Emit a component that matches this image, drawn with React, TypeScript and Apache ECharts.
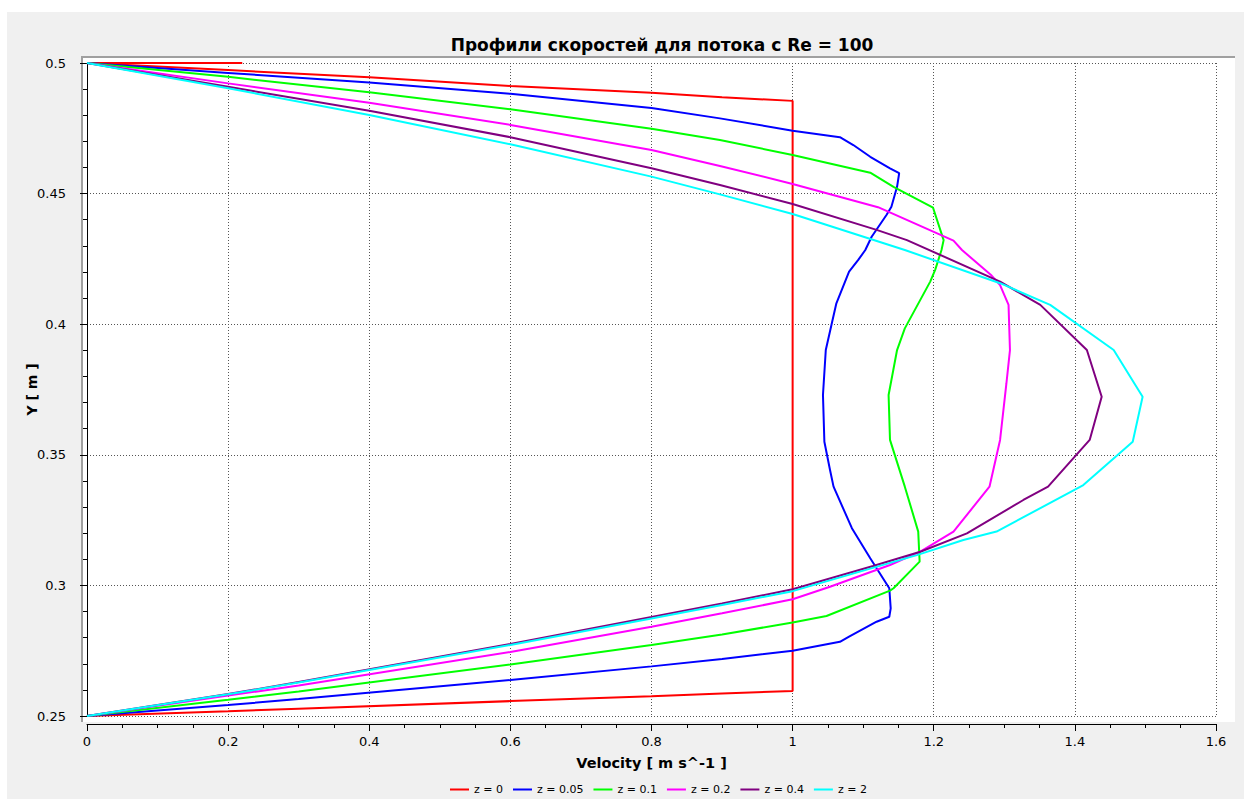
import React, { useEffect, useRef } from "react";
import * as echarts from "echarts";

const titleText = "Профили скоростей для потока с Re = 100";
const xName = "Velocity [ m s^-1 ]";
const yName = "Y [ m ]";

const seriesNames = ["z = 0", "z = 0.05", "z = 0.1", "z = 0.2", "z = 0.4", "z = 2"];
const seriesColors = ["#ff0000", "#0000ff", "#00ff00", "#ff00ff", "#800080", "#00ffff"];

// [velocity, Y] pairs, from bottom wall to top wall
const profileZ0 = [
  [0, 0.25], [0.2, 0.2518], [0.3, 0.2528], [0.6, 0.2557], [0.8, 0.2576], [0.9, 0.2586], [1.0, 0.2596],
  [1.0, 0.4855], [0.9, 0.4869], [0.8, 0.4886], [0.6, 0.4912], [0.4, 0.4945], [0.2, 0.4973],
  [0, 0.5], [0.22, 0.5],
];
const profileZ005 = [
  [0, 0.25], [0.2, 0.2542], [0.3, 0.2565], [0.6, 0.2638], [0.8, 0.269], [0.9, 0.2718], [1.0, 0.275],
  [1.067, 0.2784], [1.08, 0.2804], [1.119, 0.2861], [1.137, 0.288], [1.139, 0.2912], [1.137, 0.2989],
  [1.11, 0.3104], [1.084, 0.3219], [1.058, 0.3378], [1.053, 0.3442], [1.045, 0.355], [1.043, 0.3729],
  [1.047, 0.3901], [1.055, 0.3997], [1.062, 0.408], [1.08, 0.4201], [1.093, 0.4246], [1.103, 0.4284],
  [1.112, 0.4335], [1.133, 0.4418], [1.14, 0.445], [1.148, 0.4526], [1.151, 0.4578], [1.138, 0.4597],
  [1.11, 0.4641], [1.086, 0.4686], [1.067, 0.4716], [1.0, 0.4741], [0.897, 0.4788], [0.8, 0.4828],
  [0.6, 0.4882], [0.4, 0.4925], [0.2, 0.4962], [0, 0.5],
];
const profileZ01 = [
  [0, 0.25], [0.2, 0.2562], [0.3, 0.2594], [0.6, 0.2697], [0.8, 0.2772], [0.9, 0.2812], [1.0, 0.2858],
  [1.048, 0.2883], [1.138, 0.298], [1.143, 0.2989], [1.18, 0.3091], [1.178, 0.3206], [1.159, 0.3378],
  [1.138, 0.3557], [1.136, 0.3729], [1.148, 0.3901], [1.159, 0.3984], [1.195, 0.4163], [1.202, 0.4208],
  [1.211, 0.4284], [1.214, 0.4322], [1.199, 0.4446], [1.143, 0.4526], [1.11, 0.458], [1.0, 0.4648],
  [0.897, 0.4705], [0.8, 0.4748], [0.6, 0.4823], [0.4, 0.4888], [0.2, 0.4947], [0, 0.5],
];
const profileZ02 = [
  [0, 0.25], [0.2, 0.2578], [0.3, 0.2617], [0.6, 0.2745], [0.8, 0.2842], [0.9, 0.2893], [1.0, 0.2947],
  [1.053, 0.2995], [1.138, 0.3078], [1.181, 0.3129], [1.228, 0.3206], [1.279, 0.3378], [1.294, 0.3557],
  [1.303, 0.3774], [1.308, 0.3901], [1.306, 0.4074], [1.294, 0.415], [1.282, 0.4186], [1.24, 0.4284],
  [1.228, 0.432], [1.121, 0.4448], [1.0, 0.4537], [0.897, 0.4606], [0.8, 0.4667], [0.6, 0.4763],
  [0.4, 0.4848], [0.2, 0.4922], [0, 0.5],
];
const profileZ04 = [
  [0, 0.25], [0.2, 0.2584], [0.3, 0.263], [0.6, 0.2776], [0.8, 0.2879], [0.9, 0.2931], [1.0, 0.2985],
  [1.114, 0.3074], [1.181, 0.3129], [1.247, 0.3199], [1.327, 0.3327], [1.362, 0.3378], [1.421, 0.3557],
  [1.438, 0.3722], [1.417, 0.3901], [1.351, 0.4074], [1.294, 0.4163], [1.162, 0.4322], [1.119, 0.4361],
  [1.0, 0.446], [0.897, 0.4533], [0.8, 0.4597], [0.6, 0.4716], [0.4, 0.4817], [0.2, 0.4909], [0, 0.5],
];
const profileZ2 = [
  [0, 0.25], [0.2, 0.2583], [0.3, 0.2628], [0.6, 0.2772], [0.8, 0.2873], [0.9, 0.2925], [1.0, 0.2978],
  [1.176, 0.3116], [1.242, 0.3174], [1.289, 0.3206], [1.412, 0.3384], [1.482, 0.355], [1.496, 0.3722],
  [1.455, 0.3901], [1.365, 0.4074], [1.294, 0.4157], [1.159, 0.4284], [1.0, 0.4422], [0.897, 0.4497],
  [0.8, 0.4565], [0.6, 0.4689], [0.4, 0.4801], [0.2, 0.4903], [0, 0.5],
];
const profiles = [profileZ0, profileZ005, profileZ01, profileZ02, profileZ04, profileZ2];

const FONT = "DejaVu Sans";

export default function App() {
  const ref = useRef<HTMLDivElement>(null);
  useEffect(() => {
    if (!ref.current) return;
    const chart = echarts.init(ref.current, undefined, { renderer: "svg" });
    const option: any = {
      animation: false,
      backgroundColor: "#ffffff",
      title: {
        text: titleText,
        left: 657,
        top: 31,
        textAlign: "center",
        textStyle: { fontFamily: FONT, fontWeight: "bold", fontSize: 17, color: "#000" },
      },
      graphic: [
        { type: "rect", z: -20, silent: true, shape: { x: 7, y: 12, width: 1237, height: 787 }, style: { fill: "#f0f0f0" } },
        { type: "rect", z: -19, silent: true, shape: { x: 82, y: 57, width: 1153, height: 665 }, style: { fill: "#ffffff" } },
        { type: "line", z: -18, silent: true, shape: { x1: 82, y1: 57, x2: 82, y2: 722 }, style: { stroke: "#a0a0a0", lineWidth: 2 } },
        { type: "line", z: -18, silent: true, shape: { x1: 81, y1: 57, x2: 1235, y2: 57 }, style: { stroke: "#a0a0a0", lineWidth: 2 } },
      ],
      legend: {
        data: seriesNames,
        left: 445,
        top: 779,
        icon: "rect",
        itemWidth: 19,
        itemHeight: 2,
        itemGap: 10,
        textStyle: { fontFamily: FONT, fontSize: 11, color: "#000" },
      },
      grid: { left: 87, right: 28, top: 63, bottom: 83, containLabel: false },
      xAxis: {
        type: "value",
        min: 0,
        max: 1.6,
        interval: 0.2,
        offset: 8,
        name: xName,
        nameLocation: "middle",
        nameGap: 31,
        nameMoveOverlap: false,
        nameTextStyle: { fontFamily: FONT, fontWeight: "bold", fontSize: 14.5, color: "#000" },
        axisLine: { show: true, lineStyle: { color: "#000", width: 1 } },
        axisTick: { show: true, length: 7, lineStyle: { color: "#000" } },
        minorTick: { show: true, splitNumber: 4, length: 4, lineStyle: { color: "#000" } },
        axisLabel: { fontFamily: FONT, fontSize: 13, color: "#000", margin: 11 },
        splitLine: { show: true, lineStyle: { type: [1, 2], color: "#555", width: 1 } },
      },
      yAxis: {
        type: "value",
        min: 0.25,
        max: 0.5,
        interval: 0.05,
        offset: 8,
        name: yName,
        nameLocation: "middle",
        nameRotate: 90,
        nameGap: 40,
        nameMoveOverlap: false,
        nameTextStyle: { fontFamily: FONT, fontWeight: "bold", fontSize: 14, color: "#000" },
        axisLine: { show: true, lineStyle: { color: "#000", width: 1 } },
        axisTick: { show: true, length: 7, lineStyle: { color: "#000" } },
        minorTick: { show: true, splitNumber: 5, length: 4, lineStyle: { color: "#000" } },
        axisLabel: { fontFamily: FONT, fontSize: 13, color: "#000", margin: 13 },
        splitLine: { show: true, lineStyle: { type: [1, 2], color: "#555", width: 1 } },
      },
      series: seriesNames.map((name, i) => ({
        name,
        type: "line",
        data: profiles[i],
        color: seriesColors[i],
        showSymbol: false,
        symbol: "none",
        lineStyle: { width: 2, color: seriesColors[i] },
        itemStyle: { color: seriesColors[i] },
      })),
    };
    chart.setOption(option);
    return () => chart.dispose();
  }, []);
  return (
    <div
      ref={ref}
      style={{ position: "fixed", left: 0, top: 0, width: 1244, height: 799 }}
    />
  );
}
